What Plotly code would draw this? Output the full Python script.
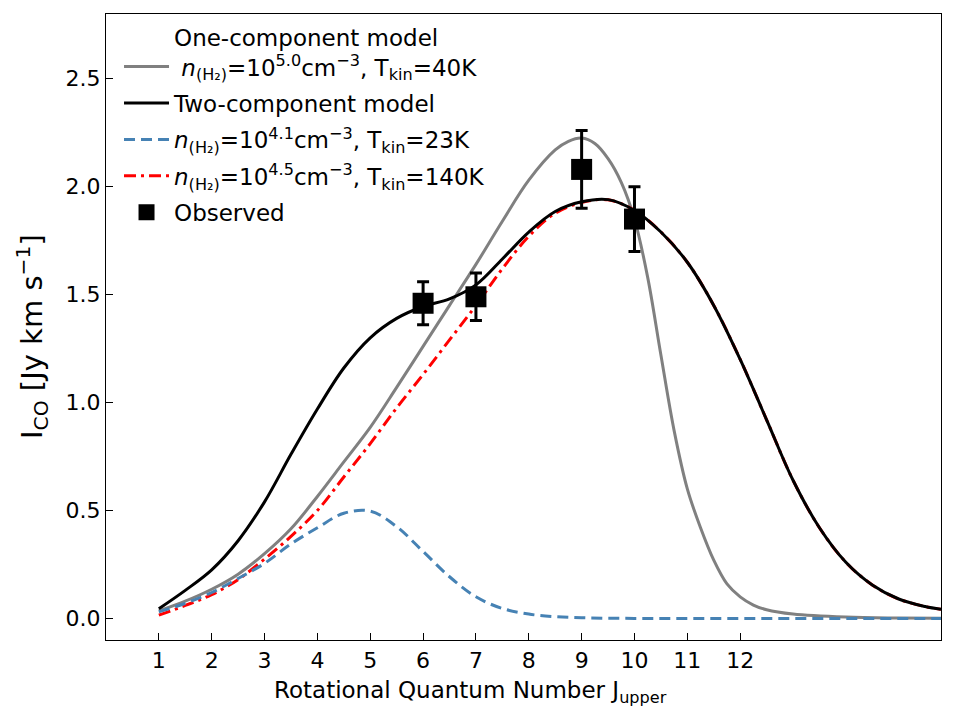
import plotly.graph_objects as go

# ---- data ----
J = [1, 1.5, 2, 2.5, 3, 3.5, 4, 4.5, 5, 5.5, 6, 6.5, 7, 7.5, 8, 8.5, 9, 9.5,
     10, 10.5, 11, 11.5, 12, 12.5, 13, 13.5, 14, 14.5, 15, 15.5, 15.8]

two_comp = [0.045, 0.13, 0.225, 0.36, 0.54, 0.76, 0.97, 1.16, 1.30, 1.39, 1.445, 1.48,
            1.545, 1.665, 1.79, 1.885, 1.93, 1.94, 1.89, 1.79, 1.65, 1.45, 1.20, 0.92,
            0.64, 0.42, 0.26, 0.155, 0.09, 0.055, 0.042]

cold_comp = [0.03, 0.07, 0.12, 0.185, 0.255, 0.345, 0.42, 0.487, 0.497, 0.425, 0.31,
             0.193, 0.10, 0.046, 0.02, 0.008, 0.003, 0.001, 0, 0, 0, 0, 0, 0, 0, 0,
             0, 0, 0, 0, 0]

warm_comp = [0.015, 0.06, 0.11, 0.18, 0.275, 0.38, 0.50, 0.655, 0.81, 0.975, 1.13, 1.29,
             1.45, 1.62, 1.77, 1.877, 1.927, 1.939, 1.89, 1.79, 1.65, 1.45, 1.20, 0.92,
             0.64, 0.42, 0.26, 0.155, 0.09, 0.055, 0.042]

J_one = [1, 1.5, 2, 2.5, 3, 3.5, 4, 4.5, 5, 5.5, 6, 6.5, 7, 7.5, 8, 8.5, 8.75, 9,
         9.25, 9.5, 9.75, 10, 10.25, 10.5, 10.75, 11, 11.25, 11.5, 11.75, 12, 12.25,
         12.5, 13, 14, 15, 15.8]
one_comp = [0.035, 0.08, 0.135, 0.205, 0.30, 0.415, 0.565, 0.725, 0.885, 1.07, 1.26,
            1.45, 1.64, 1.84, 2.03, 2.17, 2.21, 2.225, 2.20, 2.13, 2.02, 1.85, 1.58,
            1.22, 0.87, 0.60, 0.42, 0.27, 0.16, 0.10, 0.062, 0.04, 0.02, 0.006, 0.002,
            0.001]

obs_J = [6, 7, 9, 10]
obs_I = [1.46, 1.49, 2.08, 1.85]
obs_err = [0.10, 0.11, 0.18, 0.15]

x_ticks = [1, 2, 3, 4, 5, 6, 7, 8, 9, 10, 11, 12]
y_ticks = [0.0, 0.5, 1.0, 1.5, 2.0, 2.5]

x_title = "Rotational Quantum Number J<sub>upper</sub>"
y_title = "I<sub>CO</sub> [Jy km s<sup>−1</sup>]"

FONT = "DejaVu Sans"
nH2 = "<i>n</i><sub>(H₂)</sub>"

fig = go.Figure()

fig.add_trace(go.Scatter(
    x=J_one, y=one_comp, mode="lines", line=dict(color="#808080", width=3, shape="spline"),
    name="One-component model<br> " + nH2 + "=10<sup>5.0</sup>cm<sup>−3</sup>, T<sub>kin</sub>=40K",
    legendrank=1, legendgroup="g1"))
fig.add_trace(go.Scatter(
    x=J, y=warm_comp, mode="lines",
    line=dict(color="red", width=3, dash="12px,5px,3px,5px", shape="spline"),
    name=nH2 + "=10<sup>4.5</sup>cm<sup>−3</sup>, T<sub>kin</sub>=140K",
    legendrank=4, legendgroup="g4"))
fig.add_trace(go.Scatter(
    x=J, y=two_comp, mode="lines", line=dict(color="black", width=3, shape="spline"),
    name="Two-component model", legendrank=2, legendgroup="g2"))
fig.add_trace(go.Scatter(
    x=J, y=cold_comp, mode="lines",
    line=dict(color="#4682B4", width=3, dash="11px,6px", shape="spline"),
    name=nH2 + "=10<sup>4.1</sup>cm<sup>−3</sup>, T<sub>kin</sub>=23K",
    legendrank=3, legendgroup="g3"))
fig.add_trace(go.Scatter(
    x=obs_J, y=obs_I, mode="markers",
    marker=dict(symbol="square", size=21, color="black"),
    error_y=dict(type="data", array=obs_err, color="black", thickness=3, width=6),
    name="Observed", legendrank=5, legendgroup="g5"))

fig.update_layout(
    width=960, height=720,
    margin=dict(l=106, r=19, t=14, b=80),
    paper_bgcolor="white", plot_bgcolor="white",
    font=dict(family=FONT, size=22, color="black"),
    showlegend=True,
    legend=dict(x=0.0156, y=0.998, xanchor="left", yanchor="top",
                bgcolor="rgba(0,0,0,0)", borderwidth=0, valign="bottom",
                itemwidth=45,
                font=dict(family=FONT, size=23), tracegroupgap=3.5),
    annotations=[
        dict(text=x_title, xref="paper", yref="paper", x=0.436, y=-0.083,
             xanchor="center", yanchor="middle", showarrow=False,
             font=dict(family=FONT, size=23)),
        dict(text=y_title, xref="paper", yref="paper", x=-0.0886, y=0.484,
             xanchor="center", yanchor="middle", showarrow=False, textangle=-90,
             font=dict(family=FONT, size=29)),
    ],
)
fig.update_xaxes(
    range=[0, 15.8], tickvals=x_ticks, ticktext=[str(t) for t in x_ticks],
    ticks="inside", ticklen=7, tickwidth=1.2, tickcolor="black",
    showline=True, linecolor="black", linewidth=1.3, mirror=True,
    showgrid=False, zeroline=False,
    tickfont=dict(family=FONT, size=22),
)
fig.update_yaxes(
    range=[-0.1, 2.8], tickvals=y_ticks, ticktext=[f"{t:.1f}" for t in y_ticks],
    ticks="inside", ticklen=7, tickwidth=1.2, tickcolor="black",
    showline=True, linecolor="black", linewidth=1.3, mirror=True,
    showgrid=False, zeroline=False,
    tickfont=dict(family=FONT, size=22),
)

fig.write_html("out.html")
